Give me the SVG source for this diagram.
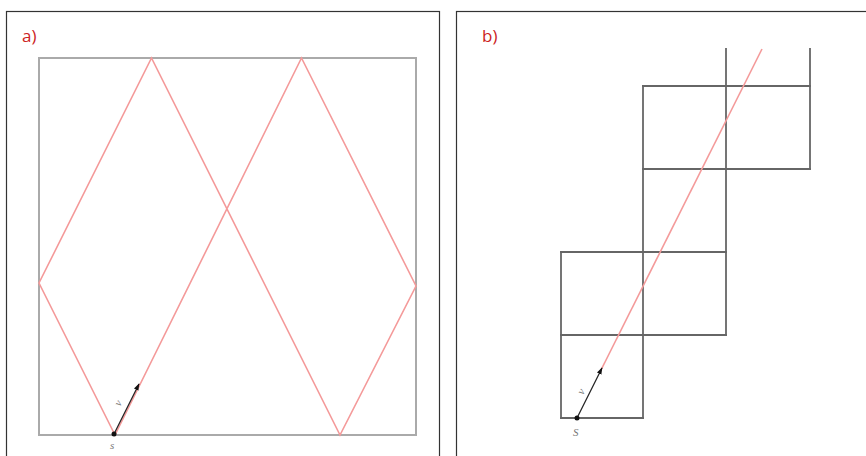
<svg xmlns="http://www.w3.org/2000/svg" width="866" height="456" viewBox="0 0 866 456">
<style>
.frame{fill:none;stroke:#333;stroke-width:1.2}
.lbl{font-family:"Open Sans","Noto Sans",sans-serif;font-size:17px;fill:#cc2222}
.sq{fill:none;stroke:#aaa;stroke-width:2}
.grid{fill:none;stroke:#666;stroke-width:1.8;stroke-linecap:square}
.ray{fill:none;stroke:#f49a9a;stroke-width:1.6;stroke-linejoin:miter}
.vec{stroke:#222;stroke-width:1.2}
.tiny{font-family:"Liberation Serif",serif;font-style:italic;font-size:11px;fill:#777}
</style>
<defs>
<marker id="ah" viewBox="0 0 10 10" refX="9" refY="5" markerWidth="7" markerHeight="7" orient="auto" markerUnits="userSpaceOnUse">
<path d="M0,1.5 L10,5 L0,8.5 Z" fill="#111"/>
</marker>
</defs>
<g id="panel-a">
<rect class="frame" x="6.5" y="11.5" width="433" height="460"/>
<text class="lbl" x="22" y="42">a)</text>
<rect class="sq" x="39" y="58" width="377" height="377"/>
<path class="ray" d="M115,435 L301.5,58 L416,286 L340,435 L151.5,58 L39,283 Z"/>
<line class="vec" x1="114" y1="434" x2="139" y2="384" marker-end="url(#ah)"/>
<circle cx="114" cy="434" r="2.5" fill="#111"/>
<text class="tiny" x="116" y="406" transform="rotate(-60 119 403)">v</text>
<text class="tiny" x="110" y="449">s</text>
</g>
<g id="panel-b">
<rect class="frame" x="456.5" y="11.5" width="420" height="460"/>
<text class="lbl" x="482" y="42">b)</text>
<g class="grid">
<line x1="726" y1="49" x2="726" y2="335"/>
<line x1="810" y1="49" x2="810" y2="169"/>
<line x1="643" y1="86" x2="810" y2="86"/>
<line x1="643" y1="169" x2="810" y2="169"/>
<line x1="643" y1="86" x2="643" y2="418"/>
<line x1="561" y1="252" x2="726" y2="252"/>
<line x1="561" y1="335" x2="726" y2="335"/>
<line x1="561" y1="252" x2="561" y2="418"/>
<line x1="561" y1="418" x2="643" y2="418"/>
</g>
<line class="ray" x1="600" y1="372" x2="762" y2="49"/>
<line class="vec" x1="577" y1="418" x2="602" y2="368" marker-end="url(#ah)"/>
<circle cx="577" cy="418" r="2.5" fill="#111"/>
<text class="tiny" x="578" y="395" transform="rotate(-60 581 391)">v</text>
<text class="tiny" x="573" y="436">S</text>
</g>
</svg>
